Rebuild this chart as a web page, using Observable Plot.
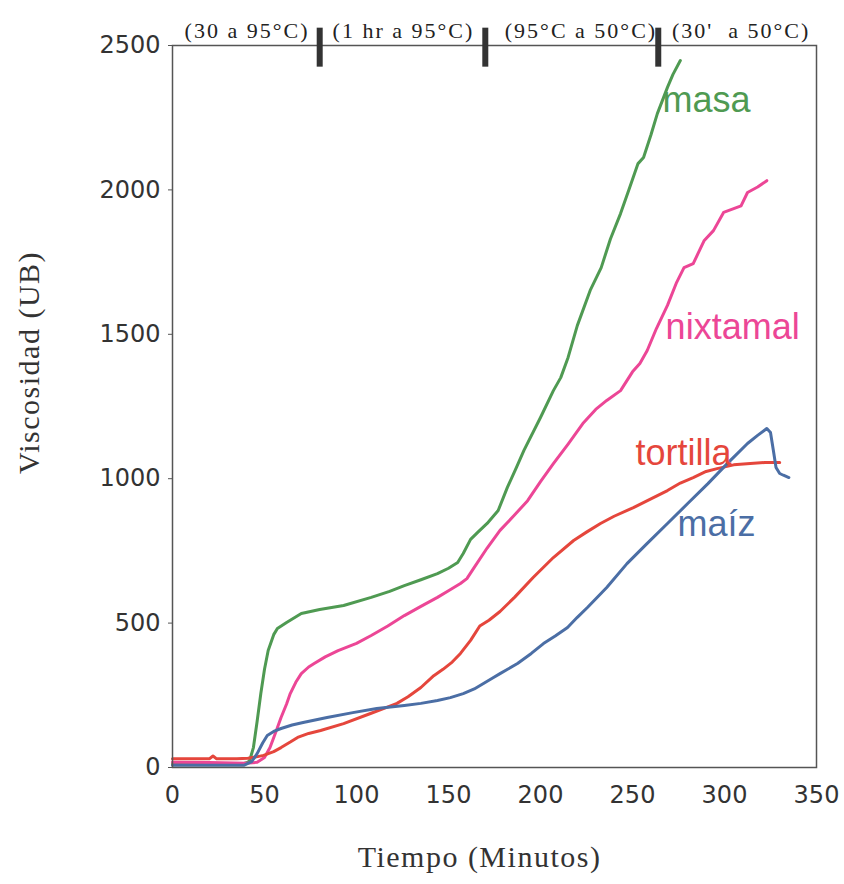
<!DOCTYPE html>
<html><head><meta charset="utf-8">
<script src="https://cdn.jsdelivr.net/npm/d3@7"></script>
<script src="https://cdn.jsdelivr.net/npm/@observablehq/plot@0.6"></script>
<style>body{margin:0;background:#fff}#chart{width:844px;height:884px}</style>
</head><body><div id="chart"></div>
<script>
// Tiempo (min), Viscosidad (UB)
const masa = [[0,12],[20,12],[38,12],[41,18],[42,25],[44,70],[46,160],[48,256],[50,340],[52,405],[55,460],[57,481],[62,502],[70,533],[80,547],[93,561],[108,589],[118,610],[126,630],[135,650],[144,671],[150,690],[155,710],[158,741],[162,790],[166,815],[171,845],[177,890],[182,970],[187,1040],[191,1098],[200,1212],[207,1305],[211,1350],[215,1420],[220,1530],[227,1652],[233,1731],[238,1830],[243.5,1918],[248,2000],[253,2091],[256,2112],[260,2190],[263.5,2264],[269,2355],[272,2400],[276,2448]];
const nixtamal = [[0,18],[20,17],[40,15],[46,18],[50,35],[53,69],[56,120],[59,173],[62,220],[64,256],[67,295],[70,325],[74,348],[77,360],[83,383],[90,405],[100,430],[108,457],[117,490],[126,526],[135,558],[144,589],[150,612],[156.5,637],[160,654],[164,693],[171,760],[178,821],[186,875],[193,924],[200,990],[207,1052],[215,1120],[223,1191],[230,1240],[236,1271],[243.5,1305],[250,1370],[254,1399],[258,1444],[263,1520],[269,1600],[274,1680],[278,1731],[283,1745],[289,1825],[294,1859],[299.5,1922],[305,1935],[309,1945],[312.5,1991],[318,2010],[323,2032]];
const tortilla = [[0,30],[10,30],[20,30],[22,40],[24,30],[35,30],[41,32],[45,36],[49.5,42],[55,55],[59,69],[64,88],[68,104],[74,118],[80.5,128],[93,152],[107.6,187],[115,205],[122,222],[128,245],[135,277],[142,318],[147,340],[152,365],[156.5,395],[162,440],[167,490],[172,510],[178,540],[186,590],[196,658],[207,727],[218,786],[225,815],[232.6,845],[240,870],[250.5,900],[260,930],[269,959],[276,985],[283,1004],[290,1025],[296,1035],[305,1048],[314,1053],[322,1056],[330,1056]];
const maiz = [[0,8],[20,8],[39,8],[43,20],[46,48],[49,85],[51.5,111],[55,125],[59,135],[65,147],[71,156],[84,173],[98,190],[111,204],[126,215],[135,222],[144,232],[151,242],[158,256],[164,272],[169,291],[174,310],[178,325],[187.5,360],[195,395],[201.6,429],[208,455],[214.7,485],[220,520],[225.5,554],[236,623],[247,706],[258,776],[269,845],[280,914],[291,983],[301.6,1053],[312.5,1122],[318,1150],[323,1174],[325,1160],[326.5,1100],[328,1039],[330,1018],[332,1012],[335,1004]];

const seriesNames = ["masa", "nixtamal", "tortilla", "maíz"];
const seriesColors = ["#4f9a52", "#ec4696", "#e5463c", "#4b6ea5"];
const labelPos = [[266.3, 2271], [268, 1482], [251.6, 1046], [274.5, 803]];

const xTicks = [0, 50, 100, 150, 200, 250, 300, 350];
const yTicks = [0, 500, 1000, 1500, 2000, 2500];

const phaseBounds = [80, 170, 264];
const phaseLabels = ["(30 a 95°C)", "(1 hr a 95°C)", "(95°C a 50°C)", "(30'  a 50°C)"];
const phaseCenters = [40.5, 125.5, 222, 309];

const rows = [masa, nixtamal, tortilla, maiz].flatMap((pts, i) =>
  pts.map(([t, v]) => ({serie: seriesNames[i], t, v})));
const labels = seriesNames.map((n, i) => ({serie: n, t: labelPos[i][0], v: labelPos[i][1]}));
const phases = phaseLabels.map((l, i) => ({l, t: phaseCenters[i]}));

const chart = Plot.plot({
  width: 844, height: 884,
  marginLeft: 172, marginRight: 28, marginTop: 45, marginBottom: 117,
  style: {background: "#fff", color: "#333", fontFamily: "DejaVu Sans", fontSize: "24px", overflow: "visible"},
  x: {domain: [0, 350]},
  y: {domain: [0, 2500]},
  color: {domain: seriesNames, range: seriesColors},
  marks: [
    Plot.axisX({ticks: xTicks, tickFormat: d3.format("d"), tickSize: 0, tickPadding: 18, label: null, fontSize: 24, fontFamily: "DejaVu Sans", fill: "#333"}),
    Plot.axisY({ticks: yTicks, tickFormat: d3.format("d"), tickSize: 4, tickPadding: 8, label: null, fontSize: 24, fontFamily: "DejaVu Sans", fill: "#333", stroke: "#555"}),
    Plot.line(rows, {x: "t", y: "v", z: "serie", stroke: "serie", strokeWidth: 3}),
    Plot.frame({stroke: "#555", strokeWidth: 1.5}),
    Plot.ruleX(phaseBounds, {x: d => d, y1: 2425, y2: 2560, stroke: "#333", strokeWidth: 6}),
    Plot.text(phases, {x: "t", y: 2500, dy: -8, text: "l", lineAnchor: "bottom", textAnchor: "middle", fontFamily: "Liberation Serif", fontSize: 22, fill: "#222"}),
    Plot.text(labels, {x: "t", y: "v", text: "serie", fill: "serie", textAnchor: "start", lineAnchor: "bottom", fontFamily: "Liberation Sans", fontSize: 36}),
    Plot.text(["Tiempo (Minutos)"], {frameAnchor: "bottom", textAnchor: "middle", dx: -15, dy: 99, lineAnchor: "bottom", fontFamily: "Liberation Serif", fontSize: 30, fill: "#333"}),
    Plot.text(["Viscosidad (UB)"], {frameAnchor: "left", textAnchor: "middle", rotate: -90, dx: -143, dy: -44, lineAnchor: "middle", fontFamily: "Liberation Serif", fontSize: 30, fill: "#333"})
  ]
});
chart.querySelectorAll('g[font-family="Liberation Serif"]').forEach(g => {
  g.setAttribute("letter-spacing", g.getAttribute("font-size") === "22" ? "2" : "1.5");
});
document.getElementById("chart").appendChild(chart);
</script>
</body></html>
